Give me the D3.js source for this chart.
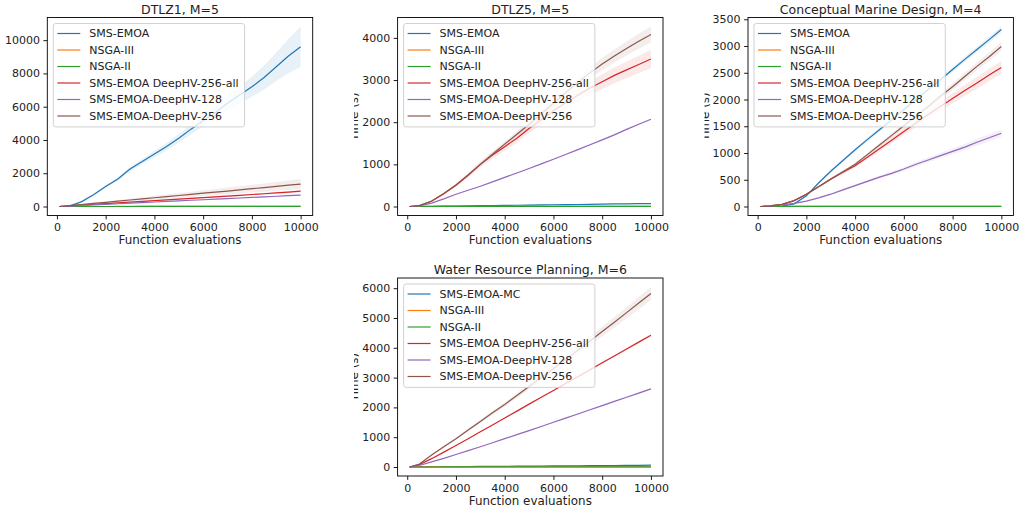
<!DOCTYPE html>
<html>
<head>
<meta charset="utf-8">
<script src="https://cdn.jsdelivr.net/npm/d3@7"></script>
<style>
  body { margin: 0; background: #fff; }
  text { font-family: "DejaVu Sans", sans-serif; fill: #222; }
</style>
</head>
<body>
<div id="d3Id"></div>
<script>
// x values (function evaluations)
var evals = [100, 500, 1000, 1500, 2000, 2500, 3000, 3500, 4000, 4500, 5000, 5500, 6000, 6500, 7000, 7500, 8000, 8500, 9000, 9500, 10000];

var seriesNames = ["SMS-EMOA", "NSGA-III", "NSGA-II", "SMS-EMOA DeepHV-256-all", "SMS-EMOA-DeepHV-128", "SMS-EMOA-DeepHV-256"];
var waterNames = ["SMS-EMOA-MC", "NSGA-III", "NSGA-II", "SMS-EMOA DeepHV-256-all", "SMS-EMOA-DeepHV-128", "SMS-EMOA-DeepHV-256"];
var colors = ["#1f77b4", "#ff7f0e", "#2ca02c", "#d62728", "#9467bd", "#8c564b"];

var xTicks = [0, 2000, 4000, 6000, 8000, 10000];

// DTLZ1, M=5
var dtlz1_sms = [0, 20, 280, 700, 1200, 1650, 2250, 2700, 3150, 3600, 4100, 4650, 5150, 5650, 6200, 6700, 7200, 7750, 8400, 9050, 9600];
var dtlz1_sms_sd = [0, 5, 30, 50, 80, 100, 130, 160, 190, 220, 260, 300, 350, 400, 450, 520, 600, 720, 850, 1020, 1220];
var dtlz1_nsga3 = [0, 0, 1, 1, 1, 2, 2, 2, 3, 3, 3, 4, 4, 4, 5, 5, 5, 6, 6, 6, 7];
var dtlz1_nsga2 = [0, 0, 0, 1, 1, 1, 1, 2, 2, 2, 2, 2, 3, 3, 3, 3, 3, 4, 4, 4, 4];
var dtlz1_all = [0, 35, 80, 125, 170, 215, 260, 310, 355, 400, 445, 490, 535, 580, 625, 670, 720, 765, 815, 865, 920];
var dtlz1_all_sd = [0, 3, 6, 9, 12, 15, 18, 21, 24, 27, 30, 33, 36, 40, 44, 48, 52, 56, 60, 65, 70];
var dtlz1_128 = [0, 25, 60, 95, 130, 165, 200, 235, 270, 305, 340, 375, 405, 440, 475, 510, 545, 580, 615, 650, 680];
var dtlz1_128_sd = [0, 2, 4, 6, 8, 10, 12, 14, 16, 18, 20, 22, 24, 26, 28, 30, 32, 34, 36, 38, 40];
var dtlz1_256 = [0, 50, 120, 185, 250, 320, 390, 455, 525, 590, 660, 730, 800, 860, 930, 1000, 1070, 1140, 1210, 1280, 1350];
var dtlz1_256_sd = [0, 10, 25, 40, 55, 70, 85, 100, 115, 130, 145, 160, 175, 190, 205, 220, 235, 250, 265, 285, 300];

// DTLZ5, M=5
var dtlz5_sms = [0, 2, 6, 9, 12, 16, 20, 23, 27, 30, 34, 38, 41, 45, 48, 52, 56, 60, 63, 67, 70];
var dtlz5_sms_sd = [0, 1, 1, 1, 2, 2, 2, 2, 3, 3, 3, 3, 3, 4, 4, 4, 4, 4, 5, 5, 5];
var dtlz5_nsga3 = [0, 0, 1, 1, 1, 1, 2, 2, 2, 2, 2, 3, 3, 3, 3, 3, 4, 4, 4, 4, 4];
var dtlz5_nsga2 = [0, 0, 0, 1, 1, 1, 1, 1, 1, 2, 2, 2, 2, 2, 2, 2, 3, 3, 3, 3, 3];
var dtlz5_all = [0, 20, 125, 300, 505, 740, 1000, 1220, 1420, 1620, 1850, 2060, 2270, 2460, 2640, 2810, 2960, 3110, 3240, 3370, 3500];
var dtlz5_all_sd = [0, 3, 10, 20, 35, 50, 65, 80, 95, 105, 115, 125, 135, 145, 155, 165, 175, 185, 195, 205, 220];
var dtlz5_128 = [0, 15, 80, 180, 290, 385, 480, 585, 690, 795, 900, 1010, 1120, 1235, 1350, 1465, 1580, 1700, 1830, 1950, 2070];
var dtlz5_128_sd = [0, 1, 2, 3, 4, 5, 6, 7, 8, 9, 10, 11, 12, 13, 14, 15, 16, 17, 18, 19, 20];
var dtlz5_256 = [0, 20, 130, 310, 510, 750, 1000, 1240, 1480, 1715, 1950, 2200, 2450, 2700, 2950, 3170, 3380, 3570, 3750, 3920, 4080];
var dtlz5_256_sd = [0, 2, 8, 15, 25, 35, 45, 55, 65, 75, 85, 95, 105, 115, 125, 135, 145, 155, 165, 178, 190];

// Conceptual Marine Design, M=4
var marine_sms = [0, 1, 8, 50, 200, 440, 660, 860, 1060, 1250, 1435, 1620, 1810, 2000, 2185, 2370, 2560, 2750, 2935, 3120, 3310];
var marine_sms_sd = [0, 1, 3, 8, 15, 20, 25, 28, 30, 33, 35, 38, 40, 42, 44, 46, 48, 50, 52, 54, 55];
var marine_nsga3 = [0, 0, 1, 1, 1, 2, 2, 2, 2, 3, 3, 3, 3, 4, 4, 4, 4, 5, 5, 5, 5];
var marine_nsga2 = [0, 0, 0, 1, 1, 1, 1, 1, 2, 2, 2, 2, 2, 2, 3, 3, 3, 3, 3, 3, 4];
var marine_all = [0, 10, 40, 110, 230, 370, 510, 640, 760, 920, 1080, 1240, 1400, 1560, 1720, 1870, 2020, 2170, 2310, 2460, 2600];
var marine_all_sd = [0, 2, 6, 10, 15, 20, 25, 30, 35, 42, 50, 57, 65, 72, 80, 88, 95, 102, 110, 115, 120];
var marine_128 = [0, 5, 30, 60, 100, 160, 230, 310, 390, 470, 550, 620, 700, 790, 870, 950, 1030, 1110, 1200, 1285, 1370];
var marine_128_sd = [0, 1, 3, 5, 8, 10, 13, 16, 20, 24, 28, 32, 36, 40, 45, 50, 55, 60, 65, 68, 70];
var marine_256 = [0, 10, 40, 110, 230, 370, 515, 650, 790, 970, 1150, 1330, 1510, 1690, 1870, 2060, 2240, 2430, 2620, 2800, 2990];
var marine_256_sd = [0, 2, 5, 8, 12, 16, 20, 24, 28, 32, 36, 40, 45, 50, 55, 60, 65, 70, 75, 78, 80];

// Water Resource Planning, M=6
var water_mc = [0, 3, 6, 9, 12, 15, 18, 21, 24, 27, 30, 33, 36, 39, 42, 45, 48, 51, 54, 57, 60];
var water_mc_sd = [0, 1, 1, 2, 2, 3, 3, 3, 4, 4, 4, 5, 5, 5, 6, 6, 6, 7, 7, 7, 8];
var water_nsga3 = [0, 0, 1, 1, 1, 1, 2, 2, 2, 2, 3, 3, 3, 3, 3, 4, 4, 4, 4, 5, 5];
var water_nsga2 = [0, 0, 0, 1, 1, 1, 1, 1, 2, 2, 2, 2, 2, 2, 3, 3, 3, 3, 3, 3, 3];
var water_all = [0, 80, 280, 500, 720, 950, 1180, 1410, 1645, 1875, 2110, 2340, 2570, 2800, 3030, 3265, 3495, 3725, 3960, 4190, 4420];
var water_all_sd = [0, 2, 4, 6, 8, 10, 12, 14, 16, 18, 20, 22, 24, 26, 28, 30, 32, 34, 36, 38, 40];
var water_128 = [0, 50, 170, 290, 420, 550, 680, 815, 950, 1085, 1220, 1360, 1500, 1640, 1780, 1920, 2060, 2200, 2340, 2480, 2620];
var water_128_sd = [0, 2, 3, 5, 6, 8, 9, 11, 12, 14, 15, 17, 18, 20, 21, 23, 24, 26, 27, 29, 30];
var water_256 = [0, 100, 400, 680, 950, 1240, 1530, 1820, 2100, 2400, 2700, 3000, 3300, 3610, 3920, 4230, 4550, 4860, 5180, 5500, 5820];
var water_256_sd = [0, 5, 15, 25, 35, 45, 55, 65, 75, 85, 95, 105, 115, 125, 135, 145, 160, 175, 190, 205, 220];

var zeros = evals.map(() => 0);

var panels = [
  {title: "DTLZ1, M=5", left: 47.3, top: 17.5, names: seriesNames, yTicks: [0, 2000, 4000, 6000, 8000, 10000], ylabel: false,
   means: [dtlz1_sms, dtlz1_nsga3, dtlz1_nsga2, dtlz1_all, dtlz1_128, dtlz1_256],
   sds: [dtlz1_sms_sd, zeros, zeros, dtlz1_all_sd, dtlz1_128_sd, dtlz1_256_sd]},
  {title: "DTLZ5, M=5", left: 397.6, top: 17.5, names: seriesNames, yTicks: [0, 1000, 2000, 3000, 4000], ylabel: true,
   means: [dtlz5_sms, dtlz5_nsga3, dtlz5_nsga2, dtlz5_all, dtlz5_128, dtlz5_256],
   sds: [dtlz5_sms_sd, zeros, zeros, dtlz5_all_sd, dtlz5_128_sd, dtlz5_256_sd]},
  {title: "Conceptual Marine Design, M=4", left: 748, top: 17.5, names: seriesNames, yTicks: [0, 500, 1000, 1500, 2000, 2500, 3000, 3500], ylabel: true,
   means: [marine_sms, marine_nsga3, marine_nsga2, marine_all, marine_128, marine_256],
   sds: [marine_sms_sd, zeros, zeros, marine_all_sd, marine_128_sd, marine_256_sd]},
  {title: "Water Resource Planning, M=6", left: 397.6, top: 278, names: waterNames, yTicks: [0, 1000, 2000, 3000, 4000, 5000, 6000], ylabel: true,
   means: [water_mc, water_nsga3, water_nsga2, water_all, water_128, water_256],
   sds: [water_mc_sd, zeros, zeros, water_all_sd, water_128_sd, water_256_sd]}
];

var width = 1019, height = 506, pw = 265.4, ph = 198;

var svg = d3.select('#d3Id')
  .append("svg")
  .attr("width", width)
  .attr("height", height);

panels.forEach(function(p, pi) {
  var g = svg.append("g").attr("transform", `translate(${p.left},${p.top})`);

  // matplotlib-like autoscale with 5% margins
  var xPad = (d3.max(evals) - d3.min(evals)) * 0.05;
  var x = d3.scaleLinear().domain([d3.min(evals) - xPad, d3.max(evals) + xPad]).range([0, pw]);
  var lo = d3.min(p.means.map((m, i) => d3.min(m.map((v, j) => v - p.sds[i][j]))));
  var hi = d3.max(p.means.map((m, i) => d3.max(m.map((v, j) => v + p.sds[i][j]))));
  var yPad = (hi - lo) * 0.05;
  var y = d3.scaleLinear().domain([lo - yPad, hi + yPad]).range([ph, 0]);

  var clipId = "clip" + pi;
  g.append("clipPath").attr("id", clipId).append("rect").attr("width", pw).attr("height", ph);
  var plot = g.append("g").attr("clip-path", `url(#${clipId})`);

  var area = d3.area().x((d, j) => x(evals[j])).y0(d => y(d[0] - d[1])).y1(d => y(d[0] + d[1]));
  var line = d3.line().x((d, j) => x(evals[j])).y(d => y(d));

  p.means.forEach(function(m, i) {
    plot.append("path")
      .datum(m.map((v, j) => [v, p.sds[i][j]]))
      .attr("d", area)
      .style("fill", colors[i])
      .style("fill-opacity", 0.1);
  });
  p.means.forEach(function(m, i) {
    plot.append("path")
      .datum(m)
      .attr("d", line)
      .style("fill", "none")
      .style("stroke", colors[i])
      .style("stroke-width", 1.2);
  });

  // axes
  var xAxis = d3.axisBottom(x).tickValues(xTicks).tickSize(3.9).tickPadding(4).tickFormat(d3.format("d"));
  var yAxis = d3.axisLeft(y).tickValues(p.yTicks).tickSize(3.9).tickPadding(3.5).tickFormat(d3.format("d"));
  var gx = g.append("g").attr("transform", `translate(0,${ph})`).call(xAxis);
  var gy = g.append("g").call(yAxis);
  [gx, gy].forEach(function(a) {
    a.select(".domain").remove();
    a.selectAll("line").style("stroke", "#000").style("stroke-width", 0.9);
    a.selectAll("text").style("font-size", "11px").style("fill", "#222").style("font-family", "DejaVu Sans");
  });

  g.append("rect")
    .attr("width", pw).attr("height", ph)
    .style("fill", "none").style("stroke", "#000").style("stroke-width", 0.9);

  g.append("text")
    .attr("x", pw / 2).attr("y", -4)
    .style("text-anchor", "middle").style("font-size", "12.5px")
    .text(p.title);

  g.append("text")
    .attr("x", pw / 2).attr("y", ph + 28.5)
    .style("text-anchor", "middle").style("font-size", "11.9px")
    .text("Function evaluations");

  // y label is cut off in the original picture
  if (p.ylabel) {
    var lblClip = "lbl" + pi;
    g.append("clipPath").attr("id", lblClip).append("rect")
      .attr("x", -43.5).attr("y", 0).attr("width", 40).attr("height", ph);
    g.append("g")
      .attr("clip-path", `url(#${lblClip})`)
      .append("text")
      .attr("transform", `translate(-39.5,${ph / 2}) rotate(-90)`)
      .style("text-anchor", "middle").style("font-size", "11.9px")
      .text("Time (s)");
  }

  // legend
  var leg = g.append("g").attr("transform", "translate(6,6)");
  var box = leg.append("rect")
    .attr("rx", 2.5).attr("ry", 2.5)
    .attr("height", 103.4)
    .style("fill", "#fff").style("fill-opacity", 0.8)
    .style("stroke", "#ccc").style("stroke-width", 0.9);
  var maxLen = 0;
  p.names.forEach(function(n, i) {
    var ly = 10 + i * 16.5;
    leg.append("line")
      .attr("x1", 4).attr("x2", 27).attr("y1", ly).attr("y2", ly)
      .style("stroke", colors[i]).style("stroke-width", 1.2);
    var t = leg.append("text")
      .attr("x", 36).attr("y", ly).attr("dy", "0.36em")
      .style("font-size", "11px")
      .text(n);
    maxLen = Math.max(maxLen, t.node().getComputedTextLength());
  });
  box.attr("width", 36 + maxLen + 6);
});
</script>
</body>
</html>
